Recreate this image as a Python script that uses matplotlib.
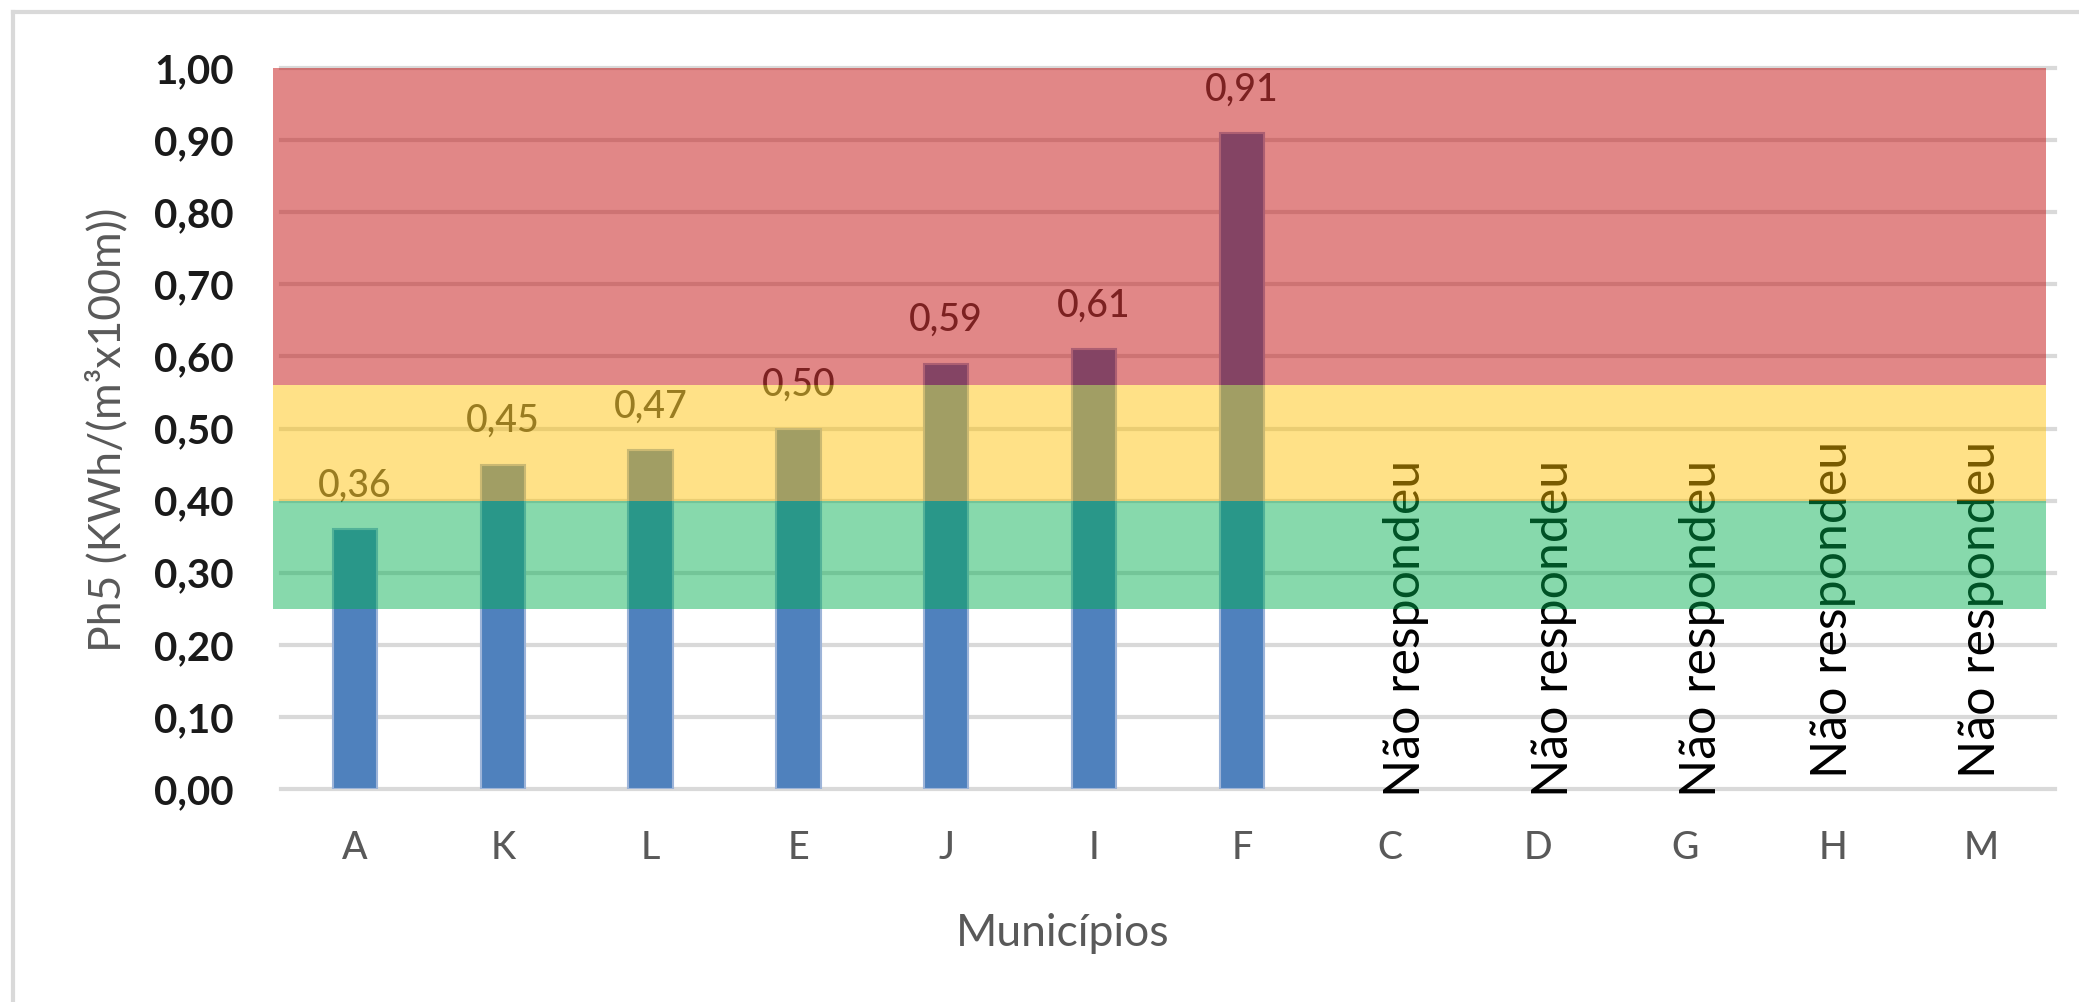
import matplotlib
matplotlib.use("Agg")
import matplotlib.pyplot as plt
from matplotlib.lines import Line2D
import numpy as np

# ---- data ----
categories = ["A", "K", "L", "E", "J", "I", "F", "C", "D", "G", "H", "M"]
values = [0.36, 0.45, 0.47, 0.50, 0.59, 0.61, 0.91]          # answered municipalities
no_answer = ["C", "D", "G", "H", "M"]
no_answer_text = "Não respondeu"
yticks = [0.0, 0.1, 0.2, 0.3, 0.4, 0.5, 0.6, 0.7, 0.8, 0.9, 1.0]
ytick_labels = ["0,00", "0,10", "0,20", "0,30", "0,40", "0,50",
                "0,60", "0,70", "0,80", "0,90", "1,00"]
# reference bands (low, high)
band_green = (0.25, 0.40)
band_yellow = (0.40, 0.56)
band_red = (0.56, 1.00)
xlabel = "Municípios"
ylabel = "Ph5 (KWh/(m³x100m))"

# ---- style ----
FONT = ["Lato", "DejaVu Sans"]
plt.rcParams["font.family"] = FONT
W, H = 2079, 1002
DPI = 100
fig = plt.figure(figsize=(W / DPI, H / DPI), dpi=DPI)
fig.patch.set_facecolor("white")

L, R, T, B = 281, 2055, 68, 789
ax = fig.add_axes([L / W, 1 - B / H, (R - L) / W, (B - T) / H])
ax.set_facecolor("white")

x = np.arange(len(categories))
bars = ax.bar(x[:len(values)], values, width=0.30, color="#4F81BD",
              edgecolor="#9DB4D8", linewidth=1.5, zorder=1)

# value labels (drawn under the translucent bands)
for xi, v in zip(x, values):
    ax.annotate(f"{v:.2f}".replace(".", ","), xy=(xi, v), xytext=(0, 31),
                textcoords="offset points", ha="center", va="center",
                fontsize=27, color="#404040", fontweight="medium", zorder=2)

# "Não respondeu" labels for the municipalities without answer
nr_dx = [0.11, 0.11, 0.11, 0.0, 0.0]
nr_y = [-0.011, -0.011, -0.011, 0.015, 0.015]
for name, dx, yy in zip(no_answer, nr_dx, nr_y):
    xi = categories.index(name)
    ax.text(xi + dx, yy, no_answer_text, rotation=90, ha="center", va="bottom",
            fontsize=36, color="#000000", zorder=2)

# translucent reference bands on top
for (lo, hi), col in [(band_green, "#00B050"), (band_yellow, "#FFC000"),
                      (band_red, "#C00000")]:
    ax.axhspan(lo, hi, xmin=-0.0045, xmax=0.995, facecolor=col, alpha=0.47,
               edgecolor="none", zorder=3, clip_on=False)

ax.set_xlim(-0.5, len(categories) - 0.5)
ax.set_ylim(0, 1.0)
ax.set_yticks(yticks)
ax.set_yticklabels(ytick_labels, fontweight="bold")
ax.set_xticks(x)
ax.set_xticklabels(categories, fontweight="medium")
ax.tick_params(axis="y", length=0, pad=34, labelsize=29, labelcolor="#1A1A1A")
ax.tick_params(axis="x", length=0, pad=30, labelsize=27, labelcolor="#595959")
for s in ax.spines.values():
    s.set_visible(False)
ax.set_axisbelow(True)
ax.yaxis.grid(True, color="#D9D9D9", linewidth=3.0)
ax.xaxis.grid(False)
for gl in ax.get_ygridlines():
    gl.set_clip_on(False)

# axis titles
fig.text(1063 / W, 1 - 933 / H, xlabel, ha="center", va="center",
         fontsize=32, color="#595959")
fig.text(107 / W, 1 - 430 / H, ylabel, rotation=90, ha="center", va="center",
         fontsize=32, color="#595959")

# chart frame (left and top edges visible)
fig.add_artist(Line2D([13 / W, 13 / W], [0, 1 - 12 / H], transform=fig.transFigure,
                      color="#D9D9D9", linewidth=3.0))
fig.add_artist(Line2D([13 / W, 1], [1 - 12 / H, 1 - 12 / H], transform=fig.transFigure,
                      color="#D9D9D9", linewidth=3.0))

fig.savefig("out.png", dpi=DPI, facecolor="white")
